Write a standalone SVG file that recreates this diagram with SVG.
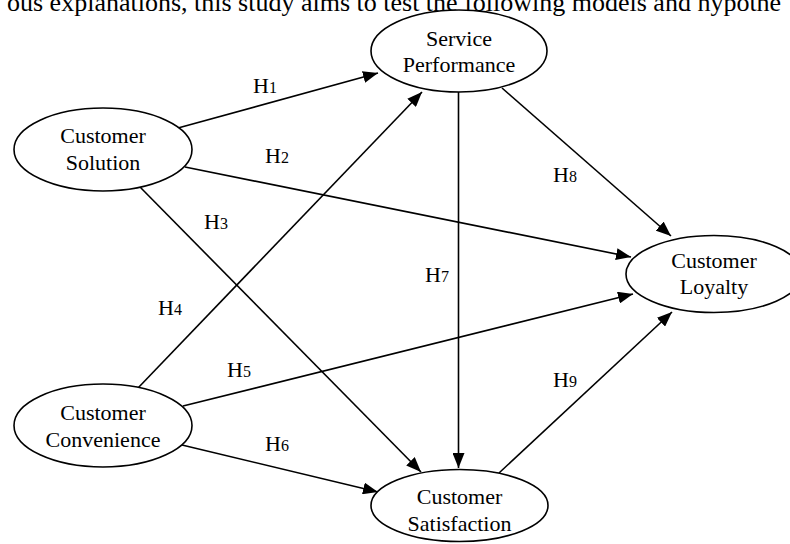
<svg xmlns="http://www.w3.org/2000/svg" width="790" height="544" viewBox="0 0 790 544">
<style>
.node ellipse{fill:#fff;stroke:#000;stroke-width:1.6}
.node text{font-family:"Liberation Serif","Times New Roman",serif;font-size:22px;fill:#000;text-anchor:middle}
.edges line{stroke:#000;stroke-width:1.6}
.lbl{font-family:"Liberation Serif","Times New Roman",serif;font-size:22px;fill:#000}
.lbl tspan.d{font-size:16px}
.para{font-family:"Liberation Serif","Times New Roman",serif;font-size:26px;fill:#000}
</style>
<defs>
<marker id="ah" markerUnits="userSpaceOnUse" markerWidth="16" markerHeight="12" refX="15" refY="6" orient="auto">
<path d="M0,0 L15,6 L0,12 Z" fill="#000"/>
</marker>
</defs>
<text class="para" x="7" y="11">ous explanations, this study aims to test the following models and hypothe</text>
<g class="edges">
<line x1="178" y1="128" x2="378" y2="73" marker-end="url(#ah)"/>
<line x1="185" y1="167" x2="631" y2="257" marker-end="url(#ah)"/>
<line x1="140" y1="187" x2="421" y2="472" marker-end="url(#ah)"/>
<line x1="138" y1="388" x2="422" y2="92" marker-end="url(#ah)"/>
<line x1="183" y1="406" x2="633" y2="294" marker-end="url(#ah)"/>
<line x1="182" y1="445" x2="378" y2="492" marker-end="url(#ah)"/>
<line x1="458.5" y1="92" x2="458.5" y2="468" marker-end="url(#ah)"/>
<line x1="502" y1="88" x2="671" y2="236" marker-end="url(#ah)"/>
<line x1="499" y1="473" x2="672" y2="312" marker-end="url(#ah)"/>
</g>
<g class="labels">
<text class="lbl" x="253" y="93">H<tspan class="d">1</tspan></text>
<text class="lbl" x="265" y="163">H<tspan class="d">2</tspan></text>
<text class="lbl" x="204" y="229">H<tspan class="d">3</tspan></text>
<text class="lbl" x="158" y="315">H<tspan class="d">4</tspan></text>
<text class="lbl" x="227" y="377">H<tspan class="d">5</tspan></text>
<text class="lbl" x="265" y="451">H<tspan class="d">6</tspan></text>
<text class="lbl" x="425" y="282">H<tspan class="d">7</tspan></text>
<text class="lbl" x="553" y="182">H<tspan class="d">8</tspan></text>
<text class="lbl" x="553" y="387">H<tspan class="d">9</tspan></text>
</g>
<g class="node" id="service">
<ellipse cx="459" cy="51" rx="88" ry="41"/>
<text x="459" y="46">Service</text>
<text x="459" y="72">Performance</text>
</g>
<g class="node" id="solution">
<ellipse cx="103" cy="149.5" rx="89" ry="41.5"/>
<text x="103" y="143">Customer</text>
<text x="103" y="170">Solution</text>
</g>
<g class="node" id="loyalty">
<ellipse cx="714" cy="274" rx="88" ry="38.5"/>
<text x="714" y="268">Customer</text>
<text x="714" y="294">Loyalty</text>
</g>
<g class="node" id="convenience">
<ellipse cx="103" cy="425.5" rx="89" ry="41.5"/>
<text x="103" y="420">Customer</text>
<text x="103" y="447">Convenience</text>
</g>
<g class="node" id="satisfaction">
<ellipse cx="459.5" cy="505.5" rx="88.5" ry="36"/>
<text x="459.5" y="504">Customer</text>
<text x="459.5" y="531">Satisfaction</text>
</g>
</svg>
